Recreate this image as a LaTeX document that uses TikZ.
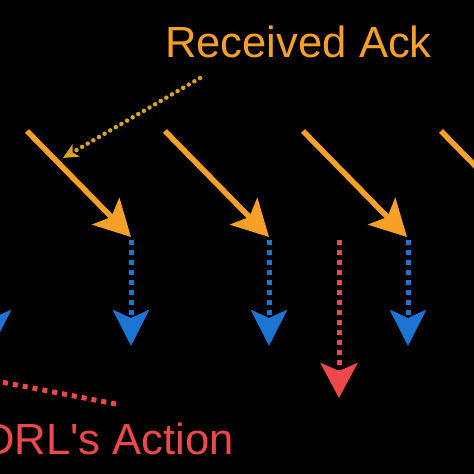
\documentclass[tikz,border=0pt]{standalone}
\usepackage{fontspec}
\setmainfont{Liberation Sans}
\usetikzlibrary{arrows.meta}
\definecolor{ackorange}{RGB}{247,160,40}
\definecolor{ackgold}{RGB}{216,166,30}
\definecolor{obsblue}{RGB}{28,117,210}
\definecolor{actred}{RGB}{238,72,74}
\begin{document}
\begin{tikzpicture}[x=1pt,y=-1pt,
  ackarrow/.style={draw=ackorange, line width=5.5pt, line cap=butt,
    -{Stealth[length=36pt,width=38pt,inset=8pt]}},
  bluearrow/.style={draw=obsblue, line width=5pt, dash pattern=on 5pt off 5pt,
    -{Stealth[length=36pt,width=36pt,inset=8pt]}},
  redarrow/.style={draw=actred, line width=5pt, dash pattern=on 5pt off 5pt,
    -{Stealth[length=35pt,width=37pt,inset=8pt]}},
  reddots/.style={draw=actred, line width=5pt, dash pattern=on 5pt off 5pt},
  golddots/.style={draw=ackgold, line width=4.5pt, line cap=round, dash pattern=on 0pt off 6.5pt,
    -{Stealth[length=15pt,width=14pt,inset=4pt]}},
  bigtext/.style={font=\fontsize{43.6}{50}\selectfont, inner sep=0pt}]
\useasboundingbox (0,0) rectangle (474,474);
\clip (0,0) rectangle (474,474);
\fill[black] (0,0) rectangle (474,474);

% orange ack arrows
\coordinate (o1s) at (27,131);  \coordinate (o1e) at (131,237);
\coordinate (o2s) at (165,131); \coordinate (o2e) at (269,237);
\coordinate (o3s) at (303,131); \coordinate (o3e) at (407,237);
\coordinate (o4s) at (441,131); \coordinate (o4e) at (545,237);
\draw[ackarrow] (o1s) -- (o1e);
\draw[ackarrow] (o2s) -- (o2e);
\draw[ackarrow] (o3s) -- (o3e);
\draw[ackarrow] (o4s) -- (o4e);

% blue dotted arrows
\coordinate (b0s) at (-7,240);  \coordinate (b0e) at (-7,346);
\coordinate (b1s) at (131,240); \coordinate (b1e) at (131,346);
\coordinate (b2s) at (269,240); \coordinate (b2e) at (269,346);
\coordinate (b3s) at (408,240); \coordinate (b3e) at (408,346);
\draw[bluearrow] (b0s) -- (b0e);
\draw[bluearrow] (b1s) -- (b1e);
\draw[bluearrow] (b2s) -- (b2e);
\draw[bluearrow] (b3s) -- (b3e);

% red dotted action arrow
\coordinate (rs) at (339,240); \coordinate (re) at (339,398);
\draw[redarrow] (rs) -- (re);

% labels
\node[bigtext, text=ackorange, anchor=base west] (ack) at (165,57) {Received Ack};
\node[bigtext, text=actred, anchor=base east] (act) at (234,454) {DRL\textquotesingle s Action};

% pointer lines
\coordinate (gs) at (200,78); \coordinate (ge) at (63,158);
\draw[golddots] (gs) -- (ge);
\coordinate (rls) at (116,404); \coordinate (rle) at (-30,376);
\draw[reddots] (rls) -- (rle);
\end{tikzpicture}
\end{document}
